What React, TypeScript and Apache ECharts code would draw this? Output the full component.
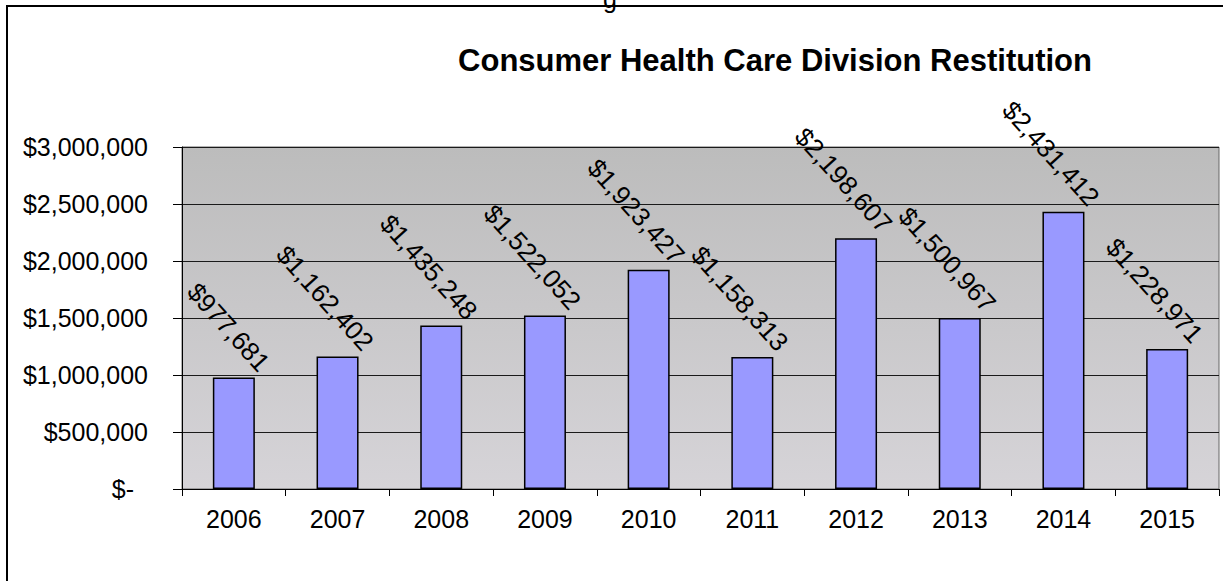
import React, { useEffect, useRef } from "react";
import * as echarts from "echarts";

const categories = ["2006", "2007", "2008", "2009", "2010", "2011", "2012", "2013", "2014", "2015"];
const restitution = [977681, 1162402, 1435248, 1522052, 1923427, 1158313, 2198607, 1500967, 2431412, 1228971];
const yTicks = { min: 0, max: 3000000, interval: 500000 };
const titleText = "Consumer Health Care Division Restitution";

const fmt = (v: number) => "$" + Math.round(v).toLocaleString("en-US");

export default function App() {
  const ref = useRef<HTMLDivElement>(null);
  useEffect(() => {
    if (!ref.current) return;
    const chart = echarts.init(ref.current, null, { renderer: "svg" });
    const font = "Arial, 'Liberation Sans', sans-serif";
    chart.setOption({
      animation: false,
      backgroundColor: "#ffffff",
      graphic: [
        {
          type: "rect",
          shape: { x: 7, y: 6, width: 1230, height: 600 },
          style: { fill: "none", stroke: "#000", lineWidth: 2 },
          silent: true,
        },
        {
          type: "text",
          x: 603,
          y: -14,
          style: { text: "g", font: "25px " + font, fill: "#000", verticalAlign: "top", align: "left" },
          silent: true,
        },
        {
          type: "text",
          x: 775,
          y: 60,
          style: {
            text: titleText,
            font: "bold 31px " + font,
            fill: "#000",
            align: "center",
            verticalAlign: "middle",
          },
          silent: true,
        },
      ],
      grid: {
        left: 182,
        right: 4,
        top: 147,
        bottom: 92,
        show: true,
        borderColor: "#666",
        borderWidth: 1,
        backgroundColor: {
          type: "linear",
          x: 0,
          y: 0,
          x2: 0,
          y2: 1,
          colorStops: [
            { offset: 0, color: "#bcbcbc" },
            { offset: 1, color: "#d6d4d8" },
          ],
        },
      },
      xAxis: {
        type: "category",
        data: categories,
        axisLine: { show: true, lineStyle: { color: "#000", width: 1 } },
        axisTick: { show: true, alignWithLabel: false, length: 7, lineStyle: { color: "#000" } },
        axisLabel: { color: "#000", fontSize: 25, fontFamily: font, margin: 17 },
        splitLine: { show: false },
      },
      yAxis: {
        type: "value",
        min: yTicks.min,
        max: yTicks.max,
        interval: yTicks.interval,
        axisLine: { show: true, lineStyle: { color: "#000", width: 1 } },
        axisTick: { show: true, length: 9, lineStyle: { color: "#000" } },
        splitLine: { show: true, lineStyle: { color: "#1a1a1a", width: 1 } },
        axisLabel: {
          color: "#000",
          fontSize: 25,
          fontFamily: font,
          margin: 34,
          formatter: (v: number) => (v === 0 ? "$-\u2007" : fmt(v)),
        },
      },
      series: [
        {
          type: "bar",
          data: restitution,
          barWidth: "40.5%",
          itemStyle: { color: "#9999ff", borderColor: "#000", borderWidth: 1.5 },
          label: {
            show: true,
            position: [52, -10],
            rotate: -48,
            align: "right",
            verticalAlign: "middle",
            color: "#000",
            fontSize: 26,
            fontFamily: font,
            formatter: (p: any) => fmt(p.value),
          },
        },
      ],
    });
    return () => chart.dispose();
  }, []);
  return <div ref={ref} style={{ position: "fixed", left: 0, top: 0, width: 1223, height: 581 }} />;
}
